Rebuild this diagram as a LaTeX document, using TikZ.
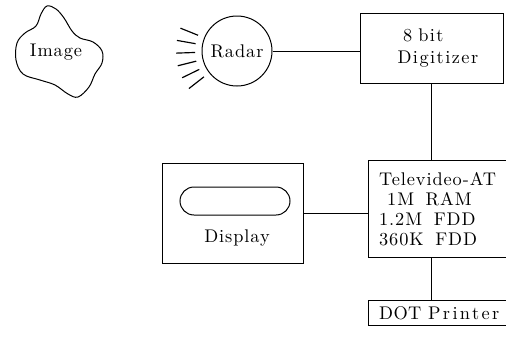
\documentclass[tikz,border=0pt]{standalone}
\usepackage{fontspec}
\setmainfont{lmroman10-regular.otf}
\usetikzlibrary{positioning}

\newcommand{\gap}{\hspace{7pt}}

\begin{document}
\begin{tikzpicture}[
    x=0.6pt, y=-0.6pt,
    line width=0.6pt,
    every node/.style={font=\fontsize{11}{12}\selectfont\addfontfeature{LetterSpace=5},inner sep=1.5pt},
    box/.style={draw},
    wide/.style={align=left,text width=85pt,inner xsep=6.4pt,anchor=north west},
    ray/.style={line width=0.7pt}
  ]
  \clip (0,0) rectangle (506,336);
  % image blob
  \node (image) at (56,52) {Image};
  \draw plot[smooth cycle,tension=0.6] coordinates {(47,6) (56,9) (64,18) (72,31) (80,38) (93,42) (102,51) (102,63) (95,74) (89,87) (78,97) (68,94) (55,85) (40,80) (23,74) (16,60) (17,43) (25,33) (36,26) (41,14)};
  % radar
  \node[box,circle,minimum size=42pt,inner sep=0pt] (radar) at (237,51) {Radar};
  \foreach \a in {142,154,...,202}
    \draw[ray] (radar.center) ++(\a:42) -- ++(\a:19);
  \node[box,minimum width=85.8pt,minimum height=42pt,align=left,text width=85.8pt,inner xsep=0pt,
        font=\fontsize{11}{13.5}\selectfont\addfontfeature{LetterSpace=8}] (digitizer) at (431.5,48)
    {\hspace{25.8pt}8 bit\\\hspace{22.5pt}Digitizer};
  % computer and printer
  \node[box,wide,minimum height=58.2pt] (tv) at (368,160)
    {Televideo-AT\\\hspace{4.8pt}1M\gap RAM\\1.2M\gap FDD\\360K\gap FDD};
  \node[box,wide,minimum height=15pt] (printer) at (368,300)
    {{\addfontfeature{LetterSpace=2}DOT}\hspace{4pt}{\addfontfeature{LetterSpace=13}Printer}};
  % display
  \node[box,minimum width=84.6pt,minimum height=60pt] (display) at (232.5,213) {};
  \node[draw,rounded corners=8.4pt,minimum width=66pt,minimum height=16.8pt] (screen) at (235,201) {};
  \node (displaylbl) at (237,238) {Display};
  % links
  \draw (radar.east) -- (radar.east -| digitizer.west);
  \draw (digitizer.south) -- (digitizer.south |- tv.north);
  \draw (display.east) -- (display.east -| tv.west);
  \draw (digitizer.south |- tv.south) -- (digitizer.south |- printer.north);
\end{tikzpicture}
\end{document}
